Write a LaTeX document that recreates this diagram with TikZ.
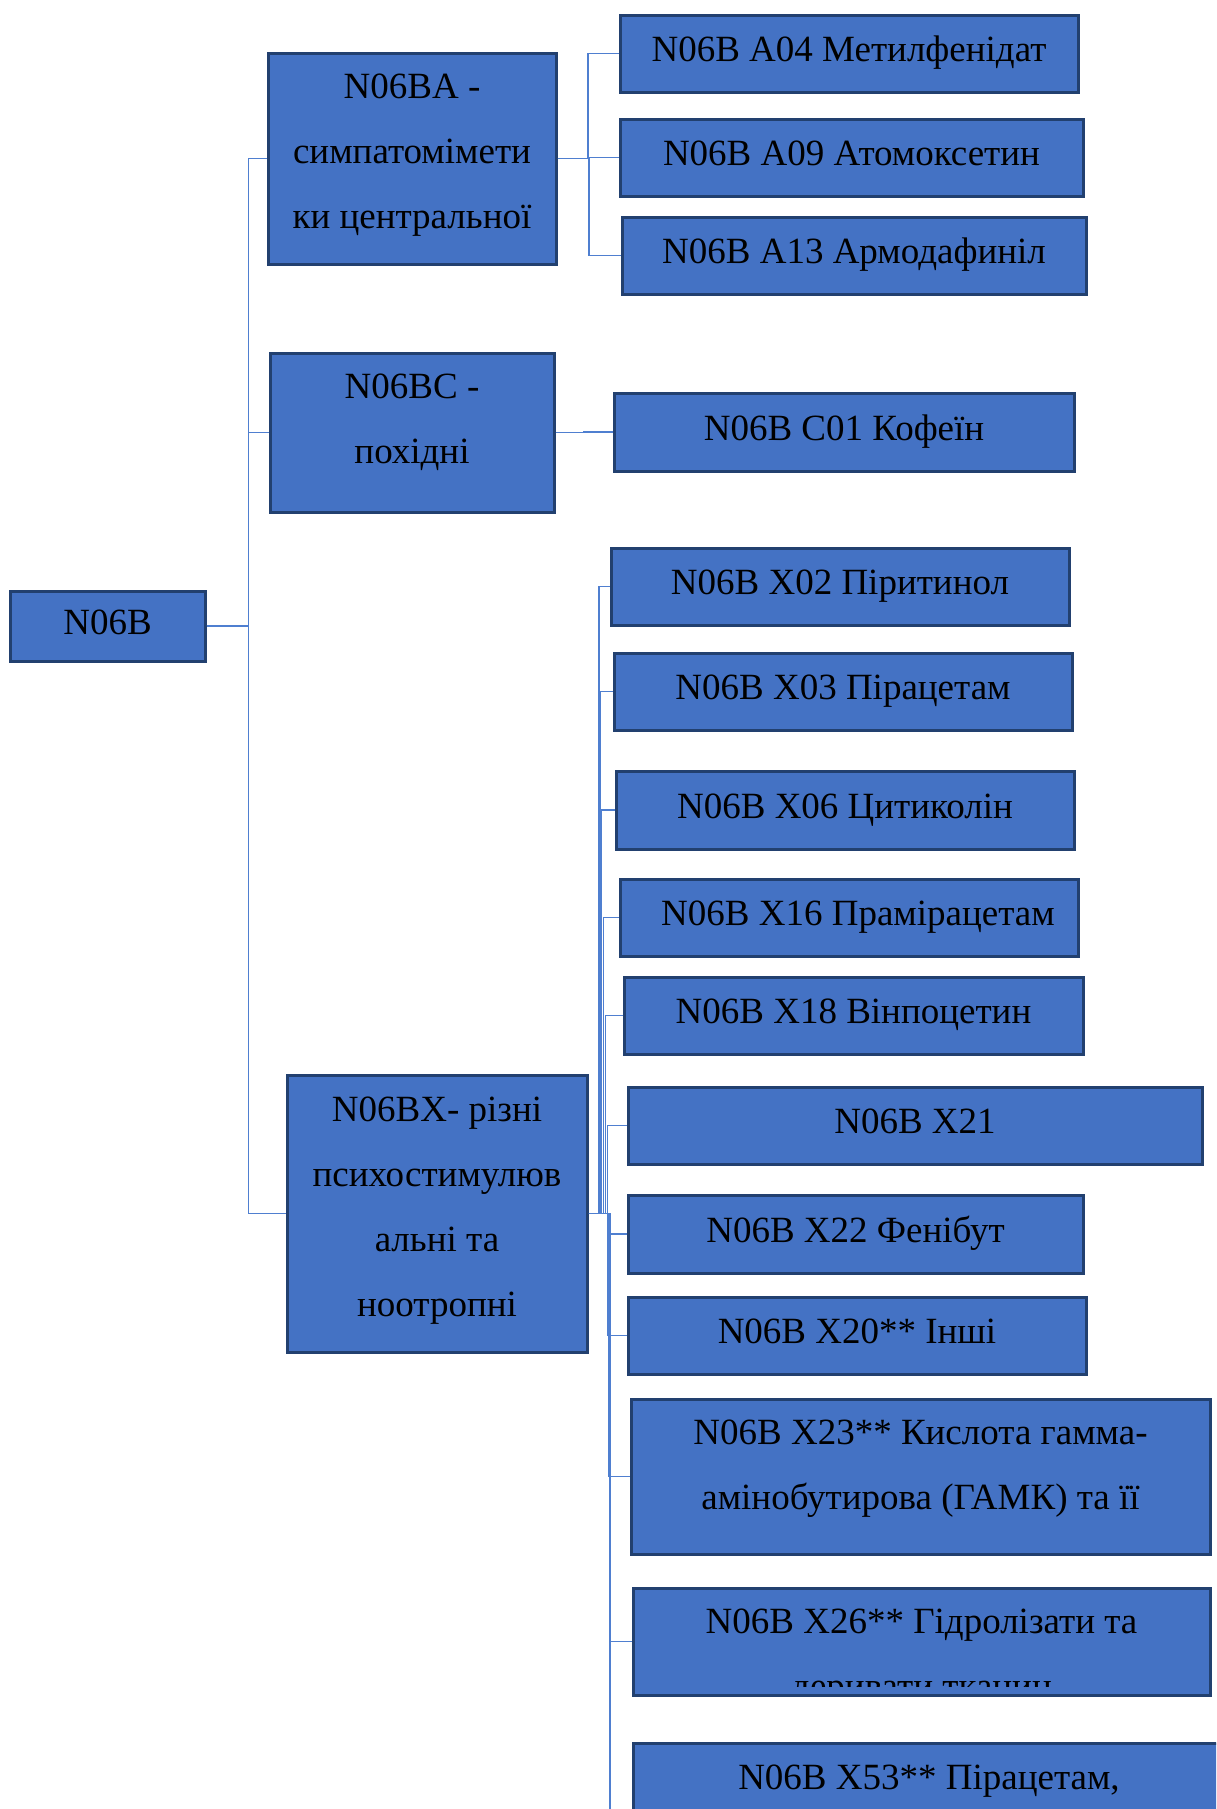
\documentclass[tikz,border=0pt]{standalone}
\usepackage{fontspec}
\setmainfont{Liberation Serif}
\usetikzlibrary{calc}
\definecolor{boxfill}{HTML}{4472C4}
\definecolor{boxline}{HTML}{22406F}
\definecolor{connc}{HTML}{4F7FD0}
\tikzset{
  box/.style={draw=boxline, fill=boxfill, line width=3bp, inner sep=0pt,
    font=\fontsize{37bp}{65bp}\selectfont, text=black,
    text height=25bp, text depth=9bp},
  txt/.style={font=\fontsize{37bp}{65bp}\selectfont, text=black, inner sep=0pt, anchor=base},
  conn/.style={draw=connc, line width=1.5bp}
}
\newcommand\mkbox[6]{\node[box,minimum width={(#4-#2)*1bp},minimum height={(#5-#3)*1bp}] (#1) at ({(#2+#4)/2},{(#3+#5)/2}) {#6};}
\newcommand\tline[4]{\node[txt] (#1) at (#2,#3) {#4};}
\newcommand\elbow[2]{\draw[conn] (#1.east) -| ($(#1.east)!.5!(#2.west)$) |- (#2.west);}
\begin{document}
\begin{tikzpicture}[x=1bp,y=-1bp]
\useasboundingbox (0,0) rectangle (1216,1809);
\clip (0,0) rectangle (1216,1809);
\fill[white] (0,0) rectangle (1216,1809);
% boxes
\mkbox{root}{10}{591}{205}{661}{N06B}
\mkbox{ba}{268}{53}{556}{264}{}
\mkbox{bc}{270}{353}{554}{512}{}
\mkbox{bx}{287}{1075}{587}{1352}{}
\mkbox{a04}{620}{15}{1078}{92}{N06B A04 Метилфенідат}
\mkbox{a09}{620}{119}{1083}{196}{N06B A09 Атомоксетин}
\mkbox{a13}{622}{217}{1086}{294}{N06B A13 Армодафиніл}
\mkbox{c01}{614}{393}{1074}{471}{N06B C01 Кофеїн}
\mkbox{x02}{611}{548}{1069}{625}{N06B X02 Піритинол}
\mkbox{x03}{614}{653}{1072}{730}{N06B X03 Пірацетам}
\mkbox{x06}{616}{771}{1074}{849}{N06B X06 Цитиколін}
\mkbox{x16}{620}{879}{1078}{956}{\hspace*{18bp}N06B X16 Прамірацетам}
\mkbox{x18}{624}{977}{1083}{1054}{N06B X18 Вінпоцетин}
\mkbox{x21}{628}{1087}{1202}{1164}{N06B X21}
\mkbox{x22}{628}{1195}{1083}{1273}{N06B X22 Фенібут}
\mkbox{x20}{628}{1297}{1086}{1374}{N06B X20** Інші}
\mkbox{x23}{631}{1399}{1210}{1554}{}
\mkbox{x26}{633}{1588}{1210}{1695}{}
\mkbox{x53}{633}{1743}{1228}{1900}{}
% multi-line texts
\tline{ba1}{412}{98.5}{N06BA -}
\tline{ba2}{412}{163}{симпатомімети}
\tline{ba3}{412}{228}{ки центральної}
\tline{bc1}{412}{398.5}{N06BC -}
\tline{bc2}{412}{463.5}{похідні}
\tline{bx1}{437}{1121}{N06BX- різні}
\tline{bx2}{437}{1186}{психостимулюв}
\tline{bx3}{437}{1251}{альні та}
\tline{bx4}{437}{1316}{ноотропні}
\tline{x231}{920.5}{1444}{N06B X23** Кислота гамма-}
\tline{x232}{920.5}{1509}{амінобутирова (ГАМК) та її}
\tline{x261}{921.5}{1633}{N06B X26** Гідролізати та}
\begin{scope}
\clip (640,1600) rectangle (1200,1686);
\tline{x262}{921.5}{1698}{деривати тканин}
\end{scope}
\tline{x531}{929}{1789}{N06B X53** Пірацетам,}
% connectors
\draw[conn] (root.east) -- ++(42,0) |- (ba.west);
\draw[conn] (root.east) -- ++(42,0) |- (bc.west);
\draw[conn] (root.east) -- ++(42,0) |- (bx.west);
\elbow{ba}{a04}
\elbow{ba}{a09}
\elbow{ba}{a13}
\elbow{bc}{c01}
\elbow{bx}{x02}
\elbow{bx}{x03}
\elbow{bx}{x06}
\elbow{bx}{x16}
\elbow{bx}{x18}
\elbow{bx}{x21}
\elbow{bx}{x22}
\elbow{bx}{x20}
\elbow{bx}{x23}
\elbow{bx}{x26}
\elbow{bx}{x53}
\end{tikzpicture}
\end{document}
